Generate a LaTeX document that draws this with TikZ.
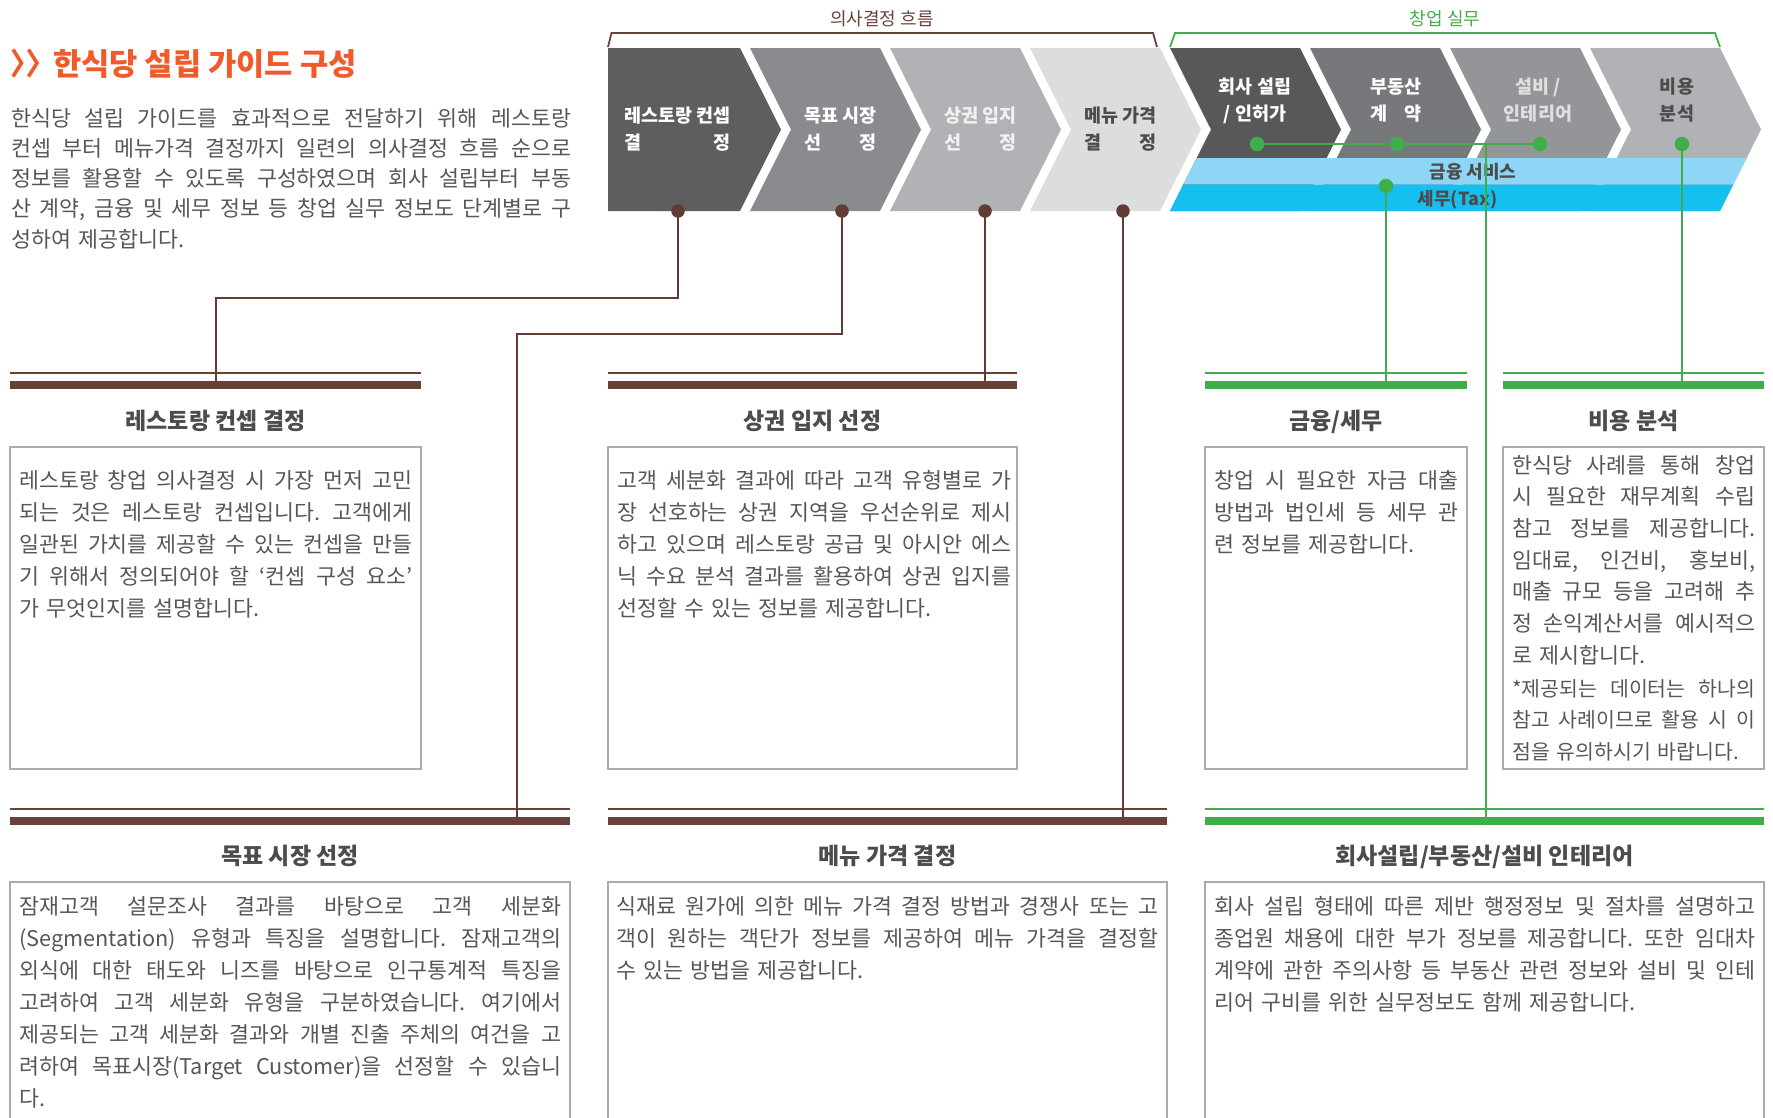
\documentclass[tikz,border=0pt]{standalone}
\usepackage{fontspec}
\setmainfont{Noto Sans CJK KR}
\definecolor{brn}{HTML}{6A4139}
\definecolor{brl}{HTML}{603C34}
\definecolor{grn}{HTML}{3FAE4A}
\definecolor{org}{HTML}{F15A29}
\definecolor{txt}{HTML}{575757}
\definecolor{ttl}{HTML}{4C4C4C}
\definecolor{boxc}{HTML}{ABABAB}
\definecolor{cA}{HTML}{5E5E60}
\definecolor{cB}{HTML}{8A8B8E}
\definecolor{cC}{HTML}{B1B2B5}
\definecolor{cD}{HTML}{DCDDDF}
\definecolor{cE}{HTML}{58585A}
\definecolor{cF}{HTML}{77787B}
\definecolor{cG}{HTML}{939598}
\definecolor{cH}{HTML}{B1B2B5}
\definecolor{lblue}{HTML}{8DD6F6}
\definecolor{dblue}{HTML}{15C0F0}
\def\jlw{100pt}
\newcommand\jl[1]{{\spaceskip=0.28em plus 1fil minus 0.1em\xspaceskip=\spaceskip\makebox[\jlw][s]{#1}}}
\newcommand\chevtwo[3]{\setbox0=\hbox{#1}\vtop{\hbox{#1}\hbox to\wd0{#2\hfill#3}}}
\newcommand\chevc[2]{\setbox0=\hbox{#1}\setbox2=\hbox{#2}\ifdim\wd0<\wd2 \setbox0=\hbox to\wd2{\hfil#1\hfil}\else\setbox2=\hbox to\wd0{\hfil#2\hfil}\fi\vtop{\box0\box2}}
\newcommand\chev[2]{\fill[#1] (#2,48) -- ++(130,0) -- ++(41,81.5) -- ++(-41,81.5) -- ++(-130,0) -- ++(41,-81.5) -- cycle;}
\begin{document}
\begin{tikzpicture}[x=1pt,y=-1pt,
  body/.style={anchor=base west, inner sep=0, align=left, text=txt, font=\fontsize{21.7}{32}\selectfont},
  jw/.style={text width=#1, execute at begin node={\def\jlw{#1}}},
  sect/.style={anchor=base, inner sep=0, text=ttl, font=\fontsize{23}{27}\selectfont\bfseries},
  chv/.style={anchor=base, inner sep=0, font=\fontsize{18.5}{27}\selectfont\bfseries},
  chw/.style={anchor=base, inner sep=0, font=\fontsize{18.5}{26.5}\selectfont\bfseries},
  brkt/.style={anchor=base, inner sep=0, font=\fontsize{18}{22}\selectfont},
  bandtxt/.style={anchor=base, inner sep=0, text=ttl, font=\fontsize{18}{22}\selectfont\bfseries},
  bar/.style={anchor=north west, inner sep=0, minimum height=8pt, outer sep=0},
  tbox/.style={anchor=north west, inner sep=0, draw=boxc, line width=1.5pt, outer sep=0},
  bdot/.style={circle, fill=brl, inner sep=0, minimum size=13.5pt},
  gdot/.style={circle, fill=grn, inner sep=0, minimum size=14.5pt},
  bline/.style={brl, line width=2pt},
  gline/.style={grn, line width=2pt},
  thinb/.style={brn, line width=2.5pt},
  thing/.style={grn, line width=2.5pt}]
\useasboundingbox (0,0) rectangle (1773,1117);
\clip (0,0) rectangle (1773,1117);

% ---- title
\draw[org, line width=3.6pt, miter limit=10] (13,49.5) -- (21.5,63) -- (13,76.5);
\draw[org, line width=3.6pt, miter limit=10] (28.5,49.5) -- (37,63) -- (28.5,76.5);
\node[anchor=base west, inner sep=0, text=org, font=\fontsize{30.7}{36}\selectfont\bfseries] (title) at (53,75) {한식당 설립 가이드 구성};

\node[body, jw=560pt, font=\fontsize{21.7}{30.3}\selectfont] (intro) at (11,126) {%
\jl{한식당 설립 가이드를 효과적으로 전달하기 위해 레스토랑}\\
\jl{컨셉 부터 메뉴가격 결정까지 일련의 의사결정 흐름 순으로}\\
\jl{정보를 활용할 수 있도록 구성하였으며 회사 설립부터 부동}\\
\jl{산 계약, 금융 및 세무 정보 등 창업 실무 정보도 단계별로 구}\\
성하여 제공합니다.};

% ---- brackets
\draw[brn, line width=1.8pt] (608,47) -- (611.5,33) -- (1153,33) -- (1157,47);
\node[brkt, text=brn] (lab1) at (882,25.5) {의사결정 흐름};
\draw[grn, line width=1.8pt] (1170,47) -- (1175,33) -- (1715,33) -- (1720,47);
\node[brkt, text=grn] (lab2) at (1445,25.5) {창업 실무};

% ---- chevrons
\fill[cA] (608,48) -- (740,48) -- (781,129.5) -- (740,211) -- (608,211) -- cycle;
\chev{cB}{750}
\chev{cC}{890}
\chev{cD}{1030}
\chev{cE}{1170}
\chev{cF}{1310}
\chev{cG}{1450}
\chev{cH}{1590}

% ---- band
\fill[lblue] (1196.7,158) -- (1746.7,158) -- (1733.3,184.5) -- (1183.3,184.5) -- cycle;
\fill[dblue] (1183.3,184.5) -- (1733.3,184.5) -- (1720,211) -- (1170,211) -- cycle;
\node[bandtxt] (bt1) at (1473,178.5) {금융 서비스};
\node[bandtxt] (bt2) at (1457.5,205.5) {세무(Tax)};

% ---- chevron labels
\node[chv, text=white] (c1) at (677.5,122.5) {\chevtwo{레스토랑 컨셉}{결}{정}};
\node[chv, text=white] (c2) at (840.5,122.5) {\chevtwo{목표 시장}{선}{정}};
\node[chv, text=white!95!black] (c3) at (980.5,122.5) {\chevtwo{상권 입지}{선}{정}};
\node[chv, text=ttl] (c4) at (1120.5,122.5) {\chevtwo{메뉴 가격}{결}{정}};
\node[chw, text=white] (c5) at (1255,93.5) {\chevc{회사 설립}{/ 인허가}};
\node[chw, text=white] (c6) at (1396,93.5) {\chevtwo{부동산}{계}{약}};
\node[chw, text=white!88!black] (c7) at (1538,93.5) {\chevc{설비 /}{인테리어}};
\node[chw, text=ttl] (c8) at (1677,93.5) {\chevc{비용}{분석}};

% ---- header lines and bars
\draw[thinb] (10,373) -- (421,373);
\node[bar, fill=brn, minimum width=411pt] (b1) at (10,381) {};
\draw[thinb] (608,373) -- (1017,373);
\node[bar, fill=brn, minimum width=409pt] (b2) at (608,381) {};
\draw[thing] (1205,373) -- (1467,373);
\node[bar, fill=grn, minimum width=262pt] (b3) at (1205,381) {};
\draw[thing] (1503,373) -- (1764,373);
\node[bar, fill=grn, minimum width=261pt] (b6) at (1503,381) {};
\draw[thinb] (10,809) -- (570,809);
\node[bar, fill=brn, minimum width=560pt] (b4) at (10,817) {};
\draw[thinb] (608,809) -- (1167,809);
\node[bar, fill=brn, minimum width=559pt] (b5) at (608,817) {};
\draw[thing] (1205,809) -- (1764,809);
\node[bar, fill=grn, minimum width=559pt] (b7) at (1205,817) {};

% ---- section titles
\node[sect] (t1) at (215.5,429) {레스토랑 컨셉 결정};
\node[sect] (t2) at (812.5,429) {상권 입지 선정};
\node[sect] (t3) at (1336,429) {금융/세무};
\node[sect] (t4) at (1633.5,429) {비용 분석};
\node[sect] (t5) at (290,864) {목표 시장 선정};
\node[sect] (t6) at (887.5,864) {메뉴 가격 결정};
\node[sect] (t7) at (1484.5,864) {회사설립/부동산/설비 인테리어};

% ---- boxes
\node[tbox, minimum width=411pt, minimum height=322pt] (x1) at (10,447) {};
\node[tbox, minimum width=409pt, minimum height=322pt] (x2) at (608,447) {};
\node[tbox, minimum width=262pt, minimum height=322pt] (x3) at (1205,447) {};
\node[tbox, minimum width=261pt, minimum height=322pt] (x4) at (1503,447) {};
\node[tbox, minimum width=560pt, minimum height=300pt] (x5) at (10,882) {};
\node[tbox, minimum width=559pt, minimum height=300pt] (x6) at (608,882) {};
\node[tbox, minimum width=559pt, minimum height=300pt] (x7) at (1205,882) {};

% ---- box texts
\node[body, jw=393pt] (p1) at (19,488) {%
\jl{레스토랑 창업 의사결정 시 가장 먼저 고민}\\
\jl{되는 것은 레스토랑 컨셉입니다. 고객에게}\\
\jl{일관된 가치를 제공할 수 있는 컨셉을 만들}\\
\jl{기 위해서 정의되어야 할 ‘컨셉 구성 요소’}\\
가 무엇인지를 설명합니다.};
\node[body, jw=394pt] (p2) at (617,488) {%
\jl{고객 세분화 결과에 따라 고객 유형별로 가}\\
\jl{장 선호하는 상권 지역을 우선순위로 제시}\\
\jl{하고 있으며 레스토랑 공급 및 아시안 에스}\\
\jl{닉 수요 분석 결과를 활용하여 상권 입지를}\\
선정할 수 있는 정보를 제공합니다.};
\node[body, jw=244pt] (p3) at (1214,488) {%
\jl{창업 시 필요한 자금 대출}\\
\jl{방법과 법인세 등 세무 관}\\
련 정보를 제공합니다.};
\node[body, jw=243pt, font=\fontsize{21.7}{31.7}\selectfont] (p4) at (1512,473) {%
\jl{한식당 사례를 통해 창업}\\
\jl{시 필요한 재무계획 수립}\\
\jl{참고 정보를 제공합니다.}\\
\jl{임대료, 인건비, 홍보비,}\\
\jl{매출 규모 등을 고려해 추}\\
\jl{정 손익계산서를 예시적으}\\
로 제시합니다.};
\node[body, jw=243pt, font=\fontsize{20.5}{31.5}\selectfont] (p4n) at (1512,696) {%
\jl{*제공되는 데이터는 하나의}\\
\jl{참고 사례이므로 활용 시 이}\\
점을 유의하시기 바랍니다.};
\node[body, jw=542pt] (p5) at (19,914) {%
\jl{잠재고객 설문조사 결과를 바탕으로 고객 세분화}\\
\jl{(Segmentation) 유형과 특징을 설명합니다. 잠재고객의}\\
\jl{외식에 대한 태도와 니즈를 바탕으로 인구통계적 특징을}\\
\jl{고려하여 고객 세분화 유형을 구분하였습니다. 여기에서}\\
\jl{제공되는 고객 세분화 결과와 개별 진출 주체의 여건을 고}\\
\jl{려하여 목표시장(Target Customer)을 선정할 수 있습니}\\
다.};
\node[body, jw=542pt] (p6) at (616,914) {%
\jl{식재료 원가에 의한 메뉴 가격 결정 방법과 경쟁사 또는 고}\\
\jl{객이 원하는 객단가 정보를 제공하여 메뉴 가격을 결정할}\\
수 있는 방법을 제공합니다.};
\node[body, jw=541pt] (p7) at (1214,914) {%
\jl{회사 설립 형태에 따른 제반 행정정보 및 절차를 설명하고}\\
\jl{종업원 채용에 대한 부가 정보를 제공합니다. 또한 임대차}\\
\jl{계약에 관한 주의사항 등 부동산 관련 정보와 설비 및 인테}\\
리어 구비를 위한 실무정보도 함께 제공합니다.};

% ---- dots
\node[bdot] (d1) at (678,211) {};
\node[bdot] (d2) at (842,211) {};
\node[bdot] (d3) at (985,211) {};
\node[bdot] (d4) at (1123,211) {};
\node[gdot] (g1) at (1257,144) {};
\node[gdot] (g2) at (1397,144) {};
\node[gdot] (g3) at (1540,144) {};
\node[gdot] (g4) at (1682,144) {};
\node[gdot] (g5) at (1386,186) {};

% ---- connectors
\coordinate (k1) at (215.5,298);
\coordinate (k2) at (517,334);
\coordinate (gj) at (1486,144);
\draw[bline] (d1.center) |- (k1) -- (b1.north);
\draw[bline] (d2.center) |- (k2) -- (k2 |- b4.north);
\draw[bline] (d3.center) -- (d3.center |- b2.north);
\draw[bline] (d4.center) -- (d4.center |- b5.north);
\draw[gline] (g1.center) -- (g2.center) -- (g3.center);
\draw[gline] (gj) -- (gj |- b7.north);
\draw[gline] (g4.center) -- (g4.center |- b6.north);
\draw[gline] (g5.center) -- (g5.center |- b3.north);
\end{tikzpicture}
\end{document}
